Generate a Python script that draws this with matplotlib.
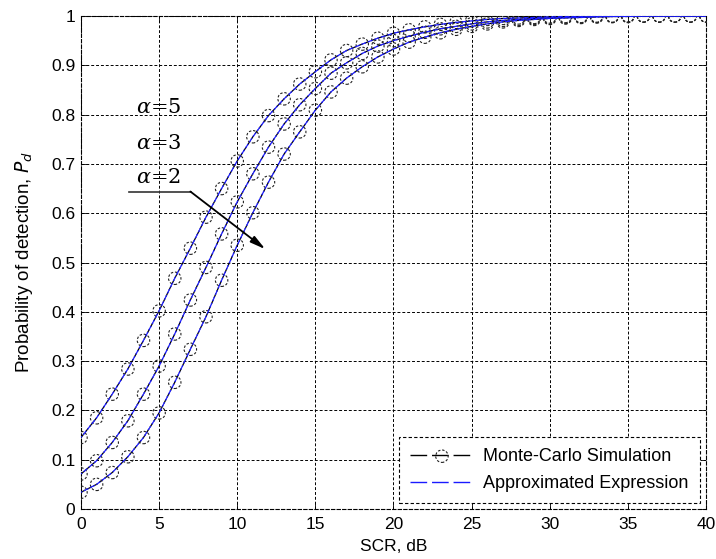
"""
Probability of detection vs SCR: Monte-Carlo simulation vs approximated expression.
"""

import matplotlib
matplotlib.use("Agg")
import matplotlib.pyplot as plt
import numpy as np

plt.rcParams["font.family"] = ["Liberation Sans", "DejaVu Sans"]
plt.rcParams["mathtext.fontset"] = "dejavusans"

# ---------------------------------------------------------------------------
# Data
# ---------------------------------------------------------------------------
scr_db = np.arange(0, 41)

pd_alpha5 = [0.145, 0.185, 0.233, 0.284, 0.342, 0.402, 0.468, 0.529, 0.592, 0.650,
             0.706, 0.755, 0.798, 0.832, 0.862, 0.887, 0.911, 0.930, 0.943, 0.955,
             0.965, 0.972, 0.978, 0.983, 0.987, 0.990, 0.993, 0.995, 0.996, 0.997,
             0.998, 0.999, 0.999, 1.000, 1.000, 1.000, 1.000, 1.000, 1.000, 1.000,
             1.000]
pd_alpha3 = [0.071, 0.098, 0.135, 0.179, 0.233, 0.290, 0.355, 0.424, 0.490, 0.558,
             0.623, 0.680, 0.734, 0.781, 0.820, 0.853, 0.884, 0.905, 0.924, 0.939,
             0.950, 0.959, 0.967, 0.974, 0.979, 0.984, 0.988, 0.991, 0.993, 0.995,
             0.996, 0.997, 0.998, 0.999, 0.999, 1.000, 1.000, 1.000, 1.000, 1.000,
             1.000]
pd_alpha2 = [0.034, 0.050, 0.074, 0.106, 0.145, 0.195, 0.257, 0.324, 0.390, 0.464,
             0.535, 0.601, 0.663, 0.720, 0.765, 0.809, 0.846, 0.874, 0.897, 0.917,
             0.933, 0.947, 0.957, 0.966, 0.973, 0.979, 0.984, 0.988, 0.991, 0.993,
             0.995, 0.996, 0.997, 0.998, 0.999, 0.999, 1.000, 1.000, 1.000, 1.000,
             1.000]

sim_curves = [pd_alpha5, pd_alpha3, pd_alpha2]
approx_curves = [pd_alpha5, pd_alpha3, pd_alpha2]

alpha_labels = [r"$\alpha$=5", r"$\alpha$=3", r"$\alpha$=2"]
alpha_label_y = [0.815, 0.742, 0.673]

x_ticks = np.arange(0, 41, 5)
y_ticks = np.round(np.arange(0, 1.01, 0.1), 1)
y_ticklabels = ["0"] + [f"{v:.1f}" for v in y_ticks[1:-1]] + ["1"]

# ---------------------------------------------------------------------------
# Figure
# ---------------------------------------------------------------------------
fig = plt.figure(figsize=(7.16, 5.59), dpi=100)
ax = fig.add_axes([0.1131, 0.0894, 0.8729, 0.882])

BLUE = "#1a1aff"
dash_ls = (0, (4, 1.5))
marker_ls = (0, (2.2, 1.6))

for y in sim_curves:
    ax.plot(scr_db, y, color="black", lw=0.9, linestyle=dash_ls, zorder=3)
    ax.scatter(scr_db, y, s=80, facecolors="none", edgecolors="#222222",
               linewidths=0.8, linestyles=[marker_ls], zorder=4)

for y in approx_curves:
    ax.plot(scr_db, y, color=BLUE, lw=0.9, linestyle=(2.75, (4, 1.5)), zorder=5)

# annotation: alpha labels + leader line + arrow
for lbl, ly in zip(alpha_labels, alpha_label_y):
    ax.text(3.55, ly, lbl, fontsize=15, ha="left", va="center", zorder=6,
            family="DejaVu Serif", math_fontfamily="dejavuserif")
ax.plot([3.1, 7.05], [0.644, 0.644], color="#333333", lw=1.2, zorder=6)
ax.annotate("", xy=(11.8, 0.527), xytext=(7.0, 0.644),
            arrowprops=dict(arrowstyle="-|>,head_length=0.9,head_width=0.22",
                            color="black", lw=1.3, shrinkA=0, shrinkB=0),
            zorder=6)

ax.set_xlim(0, 40)
ax.set_ylim(0, 1)
ax.set_xticks(x_ticks)
ax.set_yticks(y_ticks)
ax.set_yticklabels(y_ticklabels)
ax.tick_params(direction="in", length=4, width=0.6, top=True, right=True,
               labelsize=12.5)
ax.tick_params(axis="x", pad=6)
ax.tick_params(axis="y", pad=4)
ax.grid(True, color="black", linestyle=(0, (3, 2)), linewidth=0.7)
for sp in ax.spines.values():
    sp.set_linestyle((0, (3, 2)))
    sp.set_linewidth(0.8)

ax.set_xlabel("SCR, dB", fontsize=12.5, labelpad=5)
ax.set_ylabel(r"Probability of detection, $P_d$", fontsize=13.5, labelpad=12)

# legend proxies
leg_ls = (0, (12, 3.5))
h_line = plt.Line2D([], [], color="black", lw=1.0, linestyle=leg_ls)
h_mark = ax.scatter([], [], s=80, facecolors="none", edgecolors="#222222",
                    linewidths=0.8, linestyles=[marker_ls])
h_approx = plt.Line2D([], [], color=BLUE, lw=1.0, linestyle=leg_ls)
leg = ax.legend([(h_line, h_mark), h_approx],
                ["Monte-Carlo Simulation", "Approximated Expression"],
                loc="lower right", fontsize=13, handlelength=3.5,
                handletextpad=0.55, fancybox=False, framealpha=1,
                edgecolor="black", borderaxespad=0.35, borderpad=0.6,
                labelspacing=0.55)
leg.get_frame().set_linestyle((0, (3, 2)))
leg.get_frame().set_linewidth(0.8)

fig.savefig("out.png", dpi=100)
